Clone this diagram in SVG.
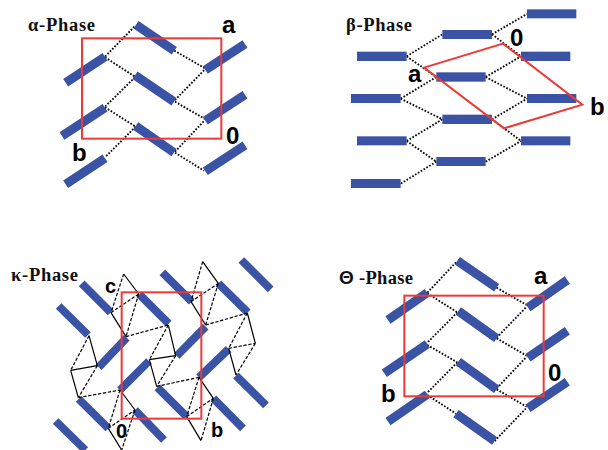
<svg xmlns="http://www.w3.org/2000/svg" width="608" height="450" viewBox="0 0 608 450">
<style>
.m{stroke:#3a53a4;stroke-width:27;fill:none}
.n{stroke:#3a53a4;stroke-width:24;fill:none}
.d{stroke:#000;stroke-width:5.5;stroke-dasharray:5 5;fill:none}
.t{stroke:#000;stroke-width:3.6;fill:none}
.k{stroke:#000;stroke-width:3.6;stroke-dasharray:10 5;fill:none}
.u{stroke:#ee3a36;stroke-width:6;fill:none}
.p{font-family:"Liberation Serif",serif;font-weight:bold;font-size:18.5px;fill:#111}
.l{font-family:"Liberation Sans",sans-serif;font-weight:bold;font-size:24px;fill:#000}
.s{font-family:"Liberation Sans",sans-serif;font-weight:bold;font-size:20px;fill:#000}
</style>
<g id="alpha" transform="scale(.33333)">
<g id="alpha-connectors">
<path class="d" d="M403 80L315 170M523 152L615 205M315 172L405 230M405 232L315 320M525 300L615 208M525 305L615 357M315 322L407 380M407 380L315 472M525 455L615 360M525 458L612 512"/>
</g>
<g id="alpha-molecules">
<path class="m" d="M408 74L523 152M197 248L315 170M405 226L522 305M616 210L735 132M186 408L315 323M407 378L522 458M616 362L735 284M197 553L315 475M616 514L735 436"/>
</g>
<rect class="u" x="246" y="115" width="418" height="301"/>
</g>
<g id="beta" transform="translate(304 0) scale(.33333)">
<g id="beta-connectors">
<path class="d" d="M564 103L669 42M308 169L415 103M308 169L397 231M545 231L651 169M397 231L290 296M545 231L669 296M290 296L415 358M564 358L669 296M564 358L651 423M415 358L308 423M308 423L397 485M545 485L651 423M397 485L290 551M564 103L651 169"/>
</g>
<g id="beta-molecules" fill="#3a53a4">
<rect x="669" y="28" width="148" height="27"/><rect x="415" y="90" width="149" height="27"/><rect x="159" y="155" width="149" height="28"/><rect x="651" y="155" width="148" height="28"/><rect x="397" y="217" width="148" height="28"/><rect x="141" y="282" width="149" height="27"/><rect x="669" y="282" width="148" height="27"/><rect x="415" y="344" width="149" height="28"/><rect x="159" y="409" width="149" height="27"/><rect x="651" y="409" width="148" height="27"/><rect x="397" y="471" width="148" height="27"/><rect x="141" y="537" width="149" height="27"/>
</g>
<polygon class="u" points="360,203 597,131 835,314 600,385"/>
</g>
<g id="kappa" transform="translate(0 225) scale(.33333)">
<g id="kappa-molecules">
<path class="n" d="M245 175L332 262M176 243L264 330M418 208L506 296M487 142L575 230M655 175L743 262M724 105L812 193M296 427L380 338M360 495L447 408M530 393L617 305M597 457L686 372M708 452L798 541M472 487L560 575M640 520L729 610M236 522L325 610M405 555L492 645M167 588L256 675"/>
</g>
<g id="kappa-connectors">
<path class="t" d="M371 147L416 207M333 263L378 335M505 300L527 392M448 404L470 484M608 110L655 175M573 230L617 300M742 264L766 355M686 370L708 450M267 332L292 422M212 436L235 518M360 495L405 555M325 610L365 675M597 457L640 520M560 575L603 647M212 436L292 422M448 404L527 392"/>
<path class="k" d="M371 147L333 263M333 263L416 207M416 207L378 335M378 335L505 300M505 300L448 404M527 392L470 484M470 484L597 457M608 110L573 230M573 230L655 175M655 175L617 300M617 300L742 264M742 264L686 370M686 370L766 355M766 355L708 450M267 332L212 436M292 422L235 518M235 518L360 495M360 495L325 610M325 610L405 555M405 555L365 675M597 457L560 575M560 575L640 520M640 520L603 647"/>
</g>
<rect class="u" x="365" y="202" width="239" height="379"/>
</g>
<g id="theta" transform="translate(304 225) scale(.33333)">
<g id="theta-connectors">
<path class="d" d="M456 112L370 203M578 188L668 240M370 205L460 262M460 262L368 355M578 338L668 245M578 340L668 392M370 360L460 412M460 412L368 505M578 490L668 395M578 493L668 545M370 510L456 566M572 648L668 548"/>
</g>
<g id="theta-molecules">
<path class="m" d="M460 107L578 188M252 285L370 203M463 258L578 340M672 248L790 165M241 445L370 357M463 410L578 493M672 398L790 317M252 590L370 508M672 550L790 470M456 566L572 648"/>
</g>
<rect class="u" x="301" y="212" width="418" height="302"/>
</g>
<g id="labels">
<text class="p" x="28" y="31" textLength="67">α-Phase</text>
<text class="p" x="346" y="31" textLength="66">β-Phase</text>
<text class="p" x="11" y="281" textLength="67">κ-Phase</text>
<text class="p" x="339" y="284" style="font-family:'Liberation Sans',sans-serif;font-size:19px">Θ</text>
<text class="p" x="359" y="284" textLength="54">-Phase</text>
<text class="l" x="222" y="33">a</text>
<text class="l" x="226" y="144">0</text>
<text class="l" x="72" y="161">b</text>
<text class="l" x="510" y="46">0</text>
<text class="l" x="408" y="82">a</text>
<text class="l" x="590" y="115">b</text>
<text class="s" x="105" y="293">c</text>
<text class="s" x="116" y="438">0</text>
<text class="s" x="211" y="437">b</text>
<text class="l" x="534" y="284">a</text>
<text class="l" x="548" y="381">0</text>
<text class="l" x="381" y="402">b</text>
</g>
</svg>
